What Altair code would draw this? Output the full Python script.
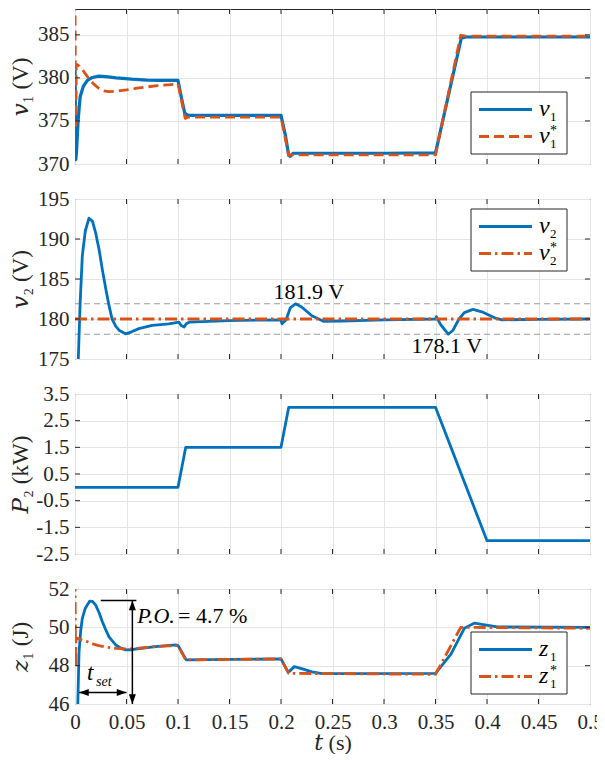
import altair as alt
import pandas as pd

# ---------------- data ----------------
time_ticks = [0, 0.05, 0.1, 0.15, 0.2, 0.25, 0.3, 0.35, 0.4, 0.45, 0.5]

# panel 1 : v1 and v1*
v1_t = [0, 0.0008, 0.0015, 0.003, 0.005, 0.008, 0.012, 0.017, 0.023, 0.03, 0.04, 0.055, 0.07, 0.085,
        0.1, 0.1035, 0.1065, 0.11, 0.15, 0.2, 0.2045, 0.2075, 0.209, 0.212, 0.25, 0.3, 0.35, 0.375,
        0.38, 0.45, 0.5]
v1_v = [381.5, 370.5, 371.5, 375.0, 377.8, 379.0, 379.7, 380.05, 380.2, 380.15, 380.0, 379.85, 379.75, 379.7,
        379.7, 377.6, 375.9, 375.65, 375.65, 375.65, 373.2, 371.0, 370.9, 371.25, 371.25, 371.25, 371.3, 384.6,
        384.75, 384.75, 384.75]
v1ref_t = [0, 0.0005, 0.001, 0.0012, 0.004, 0.007, 0.0105, 0.0136, 0.018, 0.023, 0.028, 0.033, 0.04, 0.05,
           0.06, 0.07, 0.08, 0.09, 0.1, 0.107, 0.11, 0.2, 0.2075, 0.21, 0.35, 0.3745, 0.38, 0.5]
v1ref_v = [389.0, 376.0, 374.5, 381.6, 381.4, 381.0, 380.4, 379.9, 379.3, 378.8, 378.5, 378.4, 378.45, 378.6,
           378.8, 378.95, 379.1, 379.2, 379.3, 375.3, 375.45, 375.45, 371.0, 371.05, 371.05, 384.95, 384.85, 384.85]
v1_ticks = [370, 375, 380, 385]

# panel 2 : v2 and v2*
v2_t = [0.0025, 0.0032, 0.005, 0.0071, 0.01, 0.0136, 0.017, 0.02, 0.0235, 0.0265, 0.03, 0.033, 0.036,
        0.0395, 0.0427, 0.049, 0.055, 0.062, 0.075, 0.091, 0.101, 0.103, 0.106, 0.108, 0.111, 0.15, 0.2,
        0.201, 0.205, 0.209, 0.214, 0.22, 0.23, 0.2417, 0.26, 0.3, 0.35, 0.3508, 0.355, 0.3624, 0.367,
        0.3728, 0.378, 0.3864, 0.395, 0.4084, 0.4146, 0.45, 0.5]
v2_v = [172.0, 175.0, 182.0, 187.9, 191.0, 192.6, 192.2, 190.8, 188.6, 186.2, 183.7, 181.7, 180.0,
        179.1, 178.6, 178.15, 178.4, 178.8, 179.2, 179.4, 179.6, 179.2, 179.0, 179.4, 179.6, 179.8, 179.9,
        179.4, 179.9, 181.4, 181.9, 181.5, 180.4, 179.7, 179.75, 179.9, 180.0, 180.3, 179.3, 178.1, 178.6,
        180.0, 180.8, 181.2, 180.9, 180.1, 179.9, 179.95, 180.0]
v2ref_t = [0, 0.5]
v2ref_v = [180, 180]
v2_band = [181.9, 178.1]
v2_ticks = [175, 180, 185, 190, 195]
v2_notes = ["181.9 V", "178.1 V"]
v2_note_t = [0.227, 0.361]
v2_note_v = [182.5, 175.8]

# panel 3 : P2
p2_t = [0, 0.1, 0.1075, 0.2, 0.2075, 0.35, 0.4, 0.5]
p2_v = [0, 0, 1.5, 1.5, 3.0, 3.0, -2.0, -2.0]
p2_ticks = [-2.5, -1.5, -0.5, 0.5, 1.5, 2.5, 3.5]

# panel 4 : z1 and z1*
z1_t = [0.0025, 0.0039, 0.0055, 0.0071, 0.01, 0.0143, 0.017, 0.02, 0.0235, 0.0265, 0.03, 0.033, 0.0395,
        0.045, 0.049, 0.055, 0.059, 0.078, 0.098, 0.1, 0.108, 0.2, 0.207, 0.213, 0.22, 0.23, 0.24, 0.35,
        0.365, 0.378, 0.388, 0.395, 0.41, 0.5]
z1_v = [45.5, 48.7, 49.8, 50.47, 51.0, 51.37, 51.35, 51.17, 50.75, 50.3, 49.85, 49.5, 49.08,
        48.9, 48.82, 48.83, 48.87, 48.99, 49.08, 49.05, 48.3, 48.35, 47.65, 47.95, 47.85, 47.68, 47.58, 47.6,
        48.6, 49.95, 50.22, 50.15, 50.02, 50.0]
z1ref_t = [0, 0.0006, 0.001, 0.006, 0.012, 0.018, 0.023, 0.03, 0.0395, 0.05, 0.06, 0.07, 0.08, 0.09,
           0.1, 0.1075, 0.2, 0.2075, 0.35, 0.3745, 0.5]
z1ref_v = [52.5, 47.9, 49.45, 49.35, 49.25, 49.12, 49.05, 48.97, 48.9, 48.87, 48.9, 48.95, 49.0, 49.03,
           49.05, 48.3, 48.35, 47.6, 47.55, 50.0, 49.95]
z1_ticks = [46, 48, 50, 52]
po_line_t = [0.025, 0.0596]
po_line_v = [51.4, 51.4]
po_arrow_t = [0.0557, 0.0557]
po_arrow_v = [51.4, 46.0]
tset_arrow_t = [0.0039, 0.05]
tset_arrow_v = [46.6, 46.6]

# ---------------- style ----------------
FONT = "'Liberation Serif', 'Times New Roman', 'DejaVu Serif', serif"
BLUE = "#0072BD"
ORANGE = "#D95319"
AX = "#262626"
GRID = "#E4E4E4"
W = 515
DASH = [10, 5]
DASHDOT = [12, 4, 2.5, 4]
ARROW_UP = "M0,0L-0.36,1L0.36,1Z"
ARROW_DOWN = "M0,0L-0.36,-1L0.36,-1Z"
ARROW_LEFT = "M0,0L1,-0.36L1,0.36Z"
ARROW_RIGHT = "M0,0L-1,-0.36L-1,0.36Z"

XS = alt.Scale(domain=[0, 0.5], nice=False, zero=False)
one = pd.DataFrame({"k": [0]})


def df(t, v):
    return pd.DataFrame({"t": t, "val": v})


def xaxis(show):
    if show:
        return alt.Axis(values=time_ticks, grid=True, ticks=False, domain=False, labels=True,
                        format="~g", labelFlush=False, labelPadding=7, title="𝑡  (s)", titlePadding=0,
                        titleFontSize=22)
    return alt.Axis(values=time_ticks, grid=True, ticks=False, domain=False, labels=False, title="")


def yaxis(ticks, title, expr=None):
    kw = dict(values=ticks, grid=True, ticks=False, domain=False, labelPadding=6, title=title,
              titleX=-55, titleBaseline="middle")
    if expr:
        kw["labelExpr"] = expr
    return alt.Axis(**kw)


class Panel:
    def __init__(self, ys, xax, yax, h):
        self.ys, self.xax, self.yax, self.h = ys, xax, yax, h

    def X(self):
        return alt.X("t:Q", scale=XS, axis=self.xax, title=self.xax.title)

    def Y(self):
        return alt.Y("val:Q", scale=self.ys, axis=self.yax, title=self.yax.title)

    def line(self, data, color, width, dash=None):
        mk = dict(clip=True, color=color, strokeWidth=width, strokeJoin="round")
        if dash:
            mk["strokeDash"] = dash
        return alt.Chart(data).mark_line(**mk).encode(x=self.X(), y=self.Y())

    def seg(self, t, v):
        return alt.Chart(df(t, v)).mark_line(color="black", strokeWidth=1.5).encode(x=self.X(), y=self.Y())

    def head(self, t, v, shape):
        return alt.Chart(df([t], [v])).mark_point(shape=shape, filled=True, color="black", opacity=1,
                                                    size=380, strokeWidth=0).encode(x=self.X(), y=self.Y())

    def label(self, t, v, txt, size, italic=False, align="left"):
        mk = dict(text=txt, font=FONT, fontSize=size, color="black", align=align, baseline="alphabetic")
        if italic:
            mk["fontStyle"] = "italic"
        return alt.Chart(df([t], [v])).mark_text(**mk).encode(x=self.X(), y=self.Y())

    def hline(self, vals):
        return alt.Chart(pd.DataFrame({"val": vals})).mark_rule(
            color="#9a9a9a", strokeWidth=1.1, strokeDash=[6, 4]).encode(y=self.Y())

    def frame_ticks(self, ticks):
        h = self.h
        inner_t = pd.DataFrame({"t": time_ticks[1:-1]})
        lay = []
        for y0, y1 in ((0, 5), (h - 5, h)):
            lay.append(alt.Chart(inner_t).mark_rule(color=AX, strokeWidth=1).encode(
                x=self.X(), y=alt.value(y0), y2=alt.value(y1)))
        lo, hi = self.ys.domain
        inner_v = pd.DataFrame({"val": [v for v in ticks if lo < v < hi]})
        for x0, x1 in ((0, 5), (W - 5, W)):
            lay.append(alt.Chart(inner_v).mark_rule(color=AX, strokeWidth=1).encode(
                y=self.Y(), x=alt.value(x0), x2=alt.value(x1)))
        return lay


def legend(bx, by, var, sub, dash):
    base = alt.Chart(one)
    lay = [base.mark_rect(fill="white", stroke=AX, strokeWidth=1).encode(
        x=alt.value(bx), x2=alt.value(bx + 96), y=alt.value(by), y2=alt.value(by + 62))]
    r1, r2 = by + 17.5, by + 44.5
    lay.append(base.mark_rule(color=BLUE, strokeWidth=2.8).encode(
        x=alt.value(bx + 8), x2=alt.value(bx + 61), y=alt.value(r1)))
    lay.append(base.mark_rule(color=ORANGE, strokeWidth=2.8, strokeDash=dash).encode(
        x=alt.value(bx + 8), x2=alt.value(bx + 61), y=alt.value(r2)))
    for r, star in ((r1, False), (r2, True)):
        lay.append(base.mark_text(text=var, font=FONT, fontStyle="italic", fontSize=24, align="left",
                                  baseline="alphabetic", color="black").encode(
            x=alt.value(bx + 68), y=alt.value(r + 6.5)))
        lay.append(base.mark_text(text=sub, font=FONT, fontSize=13, align="left",
                                  baseline="alphabetic", color="black").encode(
            x=alt.value(bx + 79), y=alt.value(r + 11.5)))
        if star:
            lay.append(base.mark_text(text="*", font=FONT, fontSize=14, align="left",
                                      baseline="alphabetic", color="black").encode(
                x=alt.value(bx + 79), y=alt.value(r - 2)))
    return lay


# ---------------- panel 1 ----------------
H1 = 155
P1 = Panel(alt.Scale(domain=[370, 388], nice=False, zero=False), xaxis(False),
           yaxis(v1_ticks, "𝑣₁  (V)"), H1)
p1 = alt.layer(
    P1.line(df(v1_t, v1_v), BLUE, 3.2),
    P1.line(df(v1ref_t, v1ref_v), ORANGE, 2.8, DASH),
    *P1.frame_ticks(v1_ticks),
    *legend(396, 83, "v", "1", DASH),
).properties(width=W, height=H1)

# ---------------- panel 2 ----------------
H2 = 160
P2 = Panel(alt.Scale(domain=[175, 195], nice=False, zero=False), xaxis(False),
           yaxis(v2_ticks, "𝑣₂  (V)"), H2)
notes = alt.Chart(pd.DataFrame({"t": v2_note_t, "val": v2_note_v, "txt": v2_notes})).mark_text(
    font=FONT, fontSize=22, color="black", align="center", baseline="alphabetic").encode(
    x=P2.X(), y=P2.Y(), text="txt:N")
p2 = alt.layer(
    P2.hline(v2_band),
    P2.line(df(v2_t, v2_v), BLUE, 2.8),
    P2.line(df(v2ref_t, v2ref_v), ORANGE, 2.8, DASHDOT),
    notes,
    *P2.frame_ticks(v2_ticks),
    *legend(396, 10, "v", "2", DASHDOT),
).properties(width=W, height=H2)

# ---------------- panel 3 ----------------
H3 = 160
p3_expr = "datum.value < 0 ? '-' + format(abs(datum.value), '.1f') : format(datum.value, '.1f')"
P3 = Panel(alt.Scale(domain=[-2.5, 3.5], nice=False, zero=False), xaxis(False),
           yaxis(p2_ticks, "𝑃₂  (kW)", p3_expr), H3)
p3 = alt.layer(
    P3.line(df(p2_t, p2_v), BLUE, 2.8),
    *P3.frame_ticks(p2_ticks),
).properties(width=W, height=H3)

# ---------------- panel 4 ----------------
H4 = 115
P4 = Panel(alt.Scale(domain=[46, 52], nice=False, zero=False), xaxis(True),
           yaxis(z1_ticks, "𝑧₁  (J)"), H4)
p4 = alt.layer(
    P4.line(df(z1_t, z1_v), BLUE, 2.8),
    P4.line(df(z1ref_t, z1ref_v), ORANGE, 2.8, DASHDOT),
    P4.seg(po_line_t, po_line_v),
    P4.seg(po_arrow_t, po_arrow_v),
    P4.seg(tset_arrow_t, tset_arrow_v),
    P4.head(po_arrow_t[0], po_arrow_v[0], ARROW_UP),
    P4.head(po_arrow_t[1], po_arrow_v[1], ARROW_DOWN),
    P4.head(tset_arrow_t[0], tset_arrow_v[0], ARROW_LEFT),
    P4.head(tset_arrow_t[1], tset_arrow_v[1], ARROW_RIGHT),
    P4.label(0.0605, 50.21, "P.O.", 22, True),
    P4.label(0.1, 50.21, "= 4.7 %", 22),
    P4.label(0.0117, 47.25, "t", 23, True),
    P4.label(0.0204, 46.94, "set", 14, True),
    *P4.frame_ticks(z1_ticks),
    *legend(396, 43, "z", "1", DASHDOT),
).properties(width=W, height=H4)

chart = alt.vconcat(p1, p2, p3, p4, spacing=35, bounds="flush").properties(
    padding={"left": 0, "top": 0, "right": -7, "bottom": 0}
).configure_axis(
    labelFont=FONT, labelFontSize=21, labelColor=AX,
    titleFont=FONT, titleFontSize=23, titleColor=AX, titleFontWeight="normal",
    gridColor=GRID, gridWidth=1, gridOpacity=1,
).configure_view(stroke=AX, strokeWidth=1)

chart.save("out.html", embed_options={"renderer": "svg", "actions": False})
